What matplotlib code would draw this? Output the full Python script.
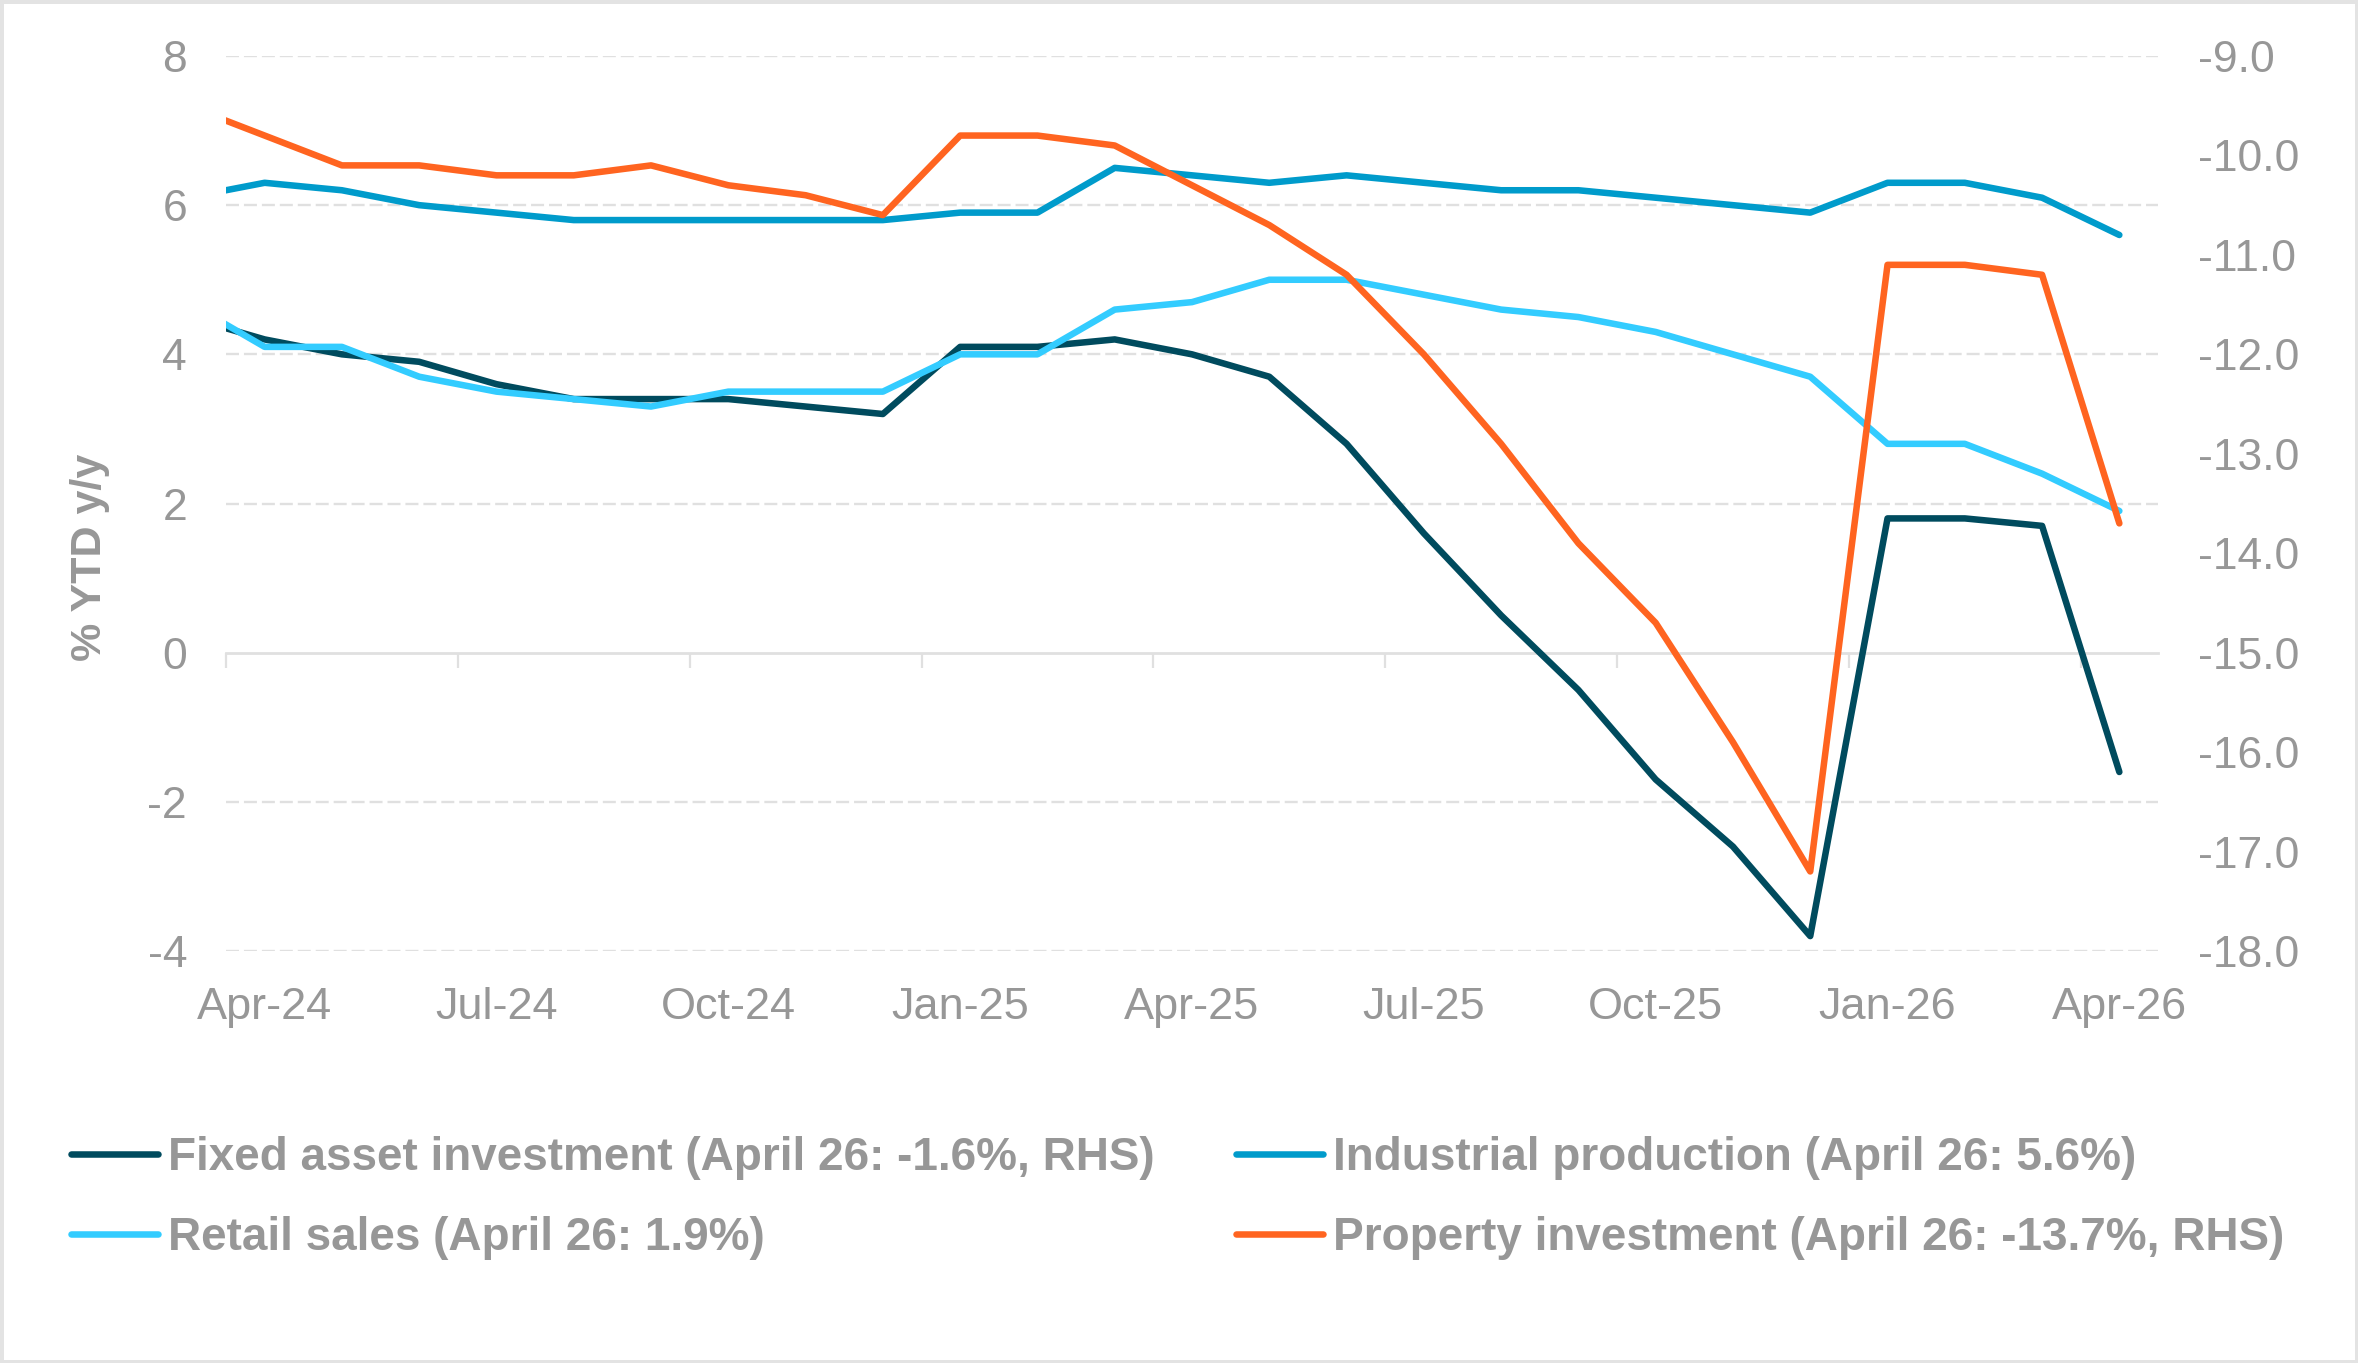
import numpy as np
import matplotlib
matplotlib.use("Agg")
import matplotlib.pyplot as plt
from matplotlib.patches import Rectangle
from matplotlib.ticker import FuncFormatter

plt.rcParams['font.family'] = ['Liberation Sans', 'DejaVu Sans']

# ---- data (monthly, YTD y/y %) ----
months = ['Mar-24', 'Apr-24', 'May-24', 'Jun-24', 'Jul-24', 'Aug-24', 'Sep-24', 'Oct-24',
          'Nov-24', 'Dec-24', 'Jan-25', 'Feb-25', 'Mar-25', 'Apr-25', 'May-25', 'Jun-25',
          'Jul-25', 'Aug-25', 'Sep-25', 'Oct-25', 'Nov-25', 'Dec-25', 'Jan-26', 'Feb-26',
          'Mar-26', 'Apr-26']
fixed_asset = [4.5, 4.2, 4.0, 3.9, 3.6, 3.4, 3.4, 3.4, 3.3, 3.2, 4.1, 4.1, 4.2, 4.0, 3.7, 2.8,
               1.6, 0.5, -0.5, -1.7, -2.6, -3.8, 1.8, 1.8, 1.7, -1.6]
industrial = [6.1, 6.3, 6.2, 6.0, 5.9, 5.8, 5.8, 5.8, 5.8, 5.8, 5.9, 5.9, 6.5, 6.4, 6.3, 6.4,
              6.3, 6.2, 6.2, 6.1, 6.0, 5.9, 6.3, 6.3, 6.1, 5.6]
retail = [4.7, 4.1, 4.1, 3.7, 3.5, 3.4, 3.3, 3.5, 3.5, 3.5, 4.0, 4.0, 4.6, 4.7, 5.0, 5.0,
          4.8, 4.6, 4.5, 4.3, 4.0, 3.7, 2.8, 2.8, 2.4, 1.9]
property_inv = [-9.5, -9.8, -10.1, -10.1, -10.2, -10.2, -10.1, -10.3, -10.4, -10.6, -9.8, -9.8,
                -9.9, -10.3, -10.7, -11.2, -12.0, -12.9, -13.9, -14.7, -15.9, -17.2, -11.1,
                -11.1, -11.2, -13.7]
tick_labels = ['Apr-24', 'Jul-24', 'Oct-24', 'Jan-25', 'Apr-25', 'Jul-25', 'Oct-25', 'Jan-26', 'Apr-26']
series_names = ['Fixed asset investment (April 26: -1.6%, RHS)',
                'Industrial production (April 26: 5.6%)',
                'Retail sales (April 26: 1.9%)',
                'Property investment (April 26: -13.7%, RHS)']

C_FAI = '#004B5E'
C_IP = '#009BCB'
C_RS = '#33CCFF'
C_PI = '#FF6420'
TXT = '#979797'
GRID = '#E0E0E0'

W, H = 2358, 1363
fig = plt.figure(figsize=(W / 100, H / 100), dpi=100)
left, right, top, bottom = 226 / W, 2158 / W, 56 / H, 951 / H
ax = fig.add_axes([left, 1 - bottom, right - left, bottom - top])

x = np.arange(len(months)) - 1  # Apr-24 at position 0
lw = 4.7
kw = dict(lw=lw, solid_capstyle='round', solid_joinstyle='round')
l1, = ax.plot(x, fixed_asset, color=C_FAI, **kw)
l2, = ax.plot(x, industrial, color=C_IP, **kw)
l3, = ax.plot(x, retail, color=C_RS, **kw)

ax2 = ax.twinx()
l4, = ax2.plot(x, property_inv, color=C_PI, **kw)

ax.set_xlim(-0.5, 24.5)
ax.set_ylim(-4, 8)
ax2.set_ylim(-18, -9)

# gridlines (left axis), dashed, except zero line
for yv in [8, 6, 4, 2, -2, -4]:
    ax.axhline(yv, color=GRID, lw=1.7, ls=(0, (5.5, 2.1)), zorder=0.5)

for a in (ax, ax2):
    for s in a.spines.values():
        s.set_visible(False)

ax.set_yticks([8, 6, 4, 2, 0, -2, -4])
ax.set_yticklabels(['8', '6', '4', '2', '0', '-2', '-4'])
ax.tick_params(axis='y', length=0, pad=28, labelsize=32, labelcolor=TXT)

ax2.set_yticks(np.arange(-18, -8.5, 1.0))
ax2.yaxis.set_major_formatter(FuncFormatter(lambda v, p: f'{v:.1f}'))
ax2.tick_params(axis='y', length=0, pad=29, labelsize=32, labelcolor=TXT)

label_pos = np.arange(0, 25, 3)
ax.set_xticks(label_pos)
ax.set_xticklabels(tick_labels)
ax.tick_params(axis='x', length=0, pad=26, labelsize=32.5, labelcolor=TXT)

# zero axis with tick marks between categories
sec = ax.secondary_xaxis(1 / 3)
sec.spines['bottom'].set_color(GRID)
sec.spines['bottom'].set_linewidth(2.0)
sec.set_xticks(np.arange(-0.5, 24.6, 3))
sec.set_xticklabels([])
sec.tick_params(axis='x', length=11, width=1.6, color=GRID, direction='out')

ax.set_ylabel('% YTD y/y', fontsize=31, fontweight='bold', color=TXT)
ax.yaxis.set_label_coords(-0.060, 0.44)

leg = fig.legend([l1, l3, l2, l4], [series_names[0], series_names[2], series_names[1], series_names[3]],
                 ncol=2, loc='upper left', bbox_to_anchor=(71 / W, 1 - 1136 / H),
                 frameon=False, borderpad=0, borderaxespad=0,
                 handlelength=1.90, handletextpad=0.22, columnspacing=1.77, labelspacing=0.78,
                 prop={'size': 33, 'weight': 'bold'})
for t in leg.get_texts():
    t.set_color(TXT)

fig.add_artist(Rectangle((0, 0), 1, 1, transform=fig.transFigure, fill=False,
                         edgecolor='#E3E3E3', lw=5))

fig.savefig('out.png', dpi=100, facecolor='white')
